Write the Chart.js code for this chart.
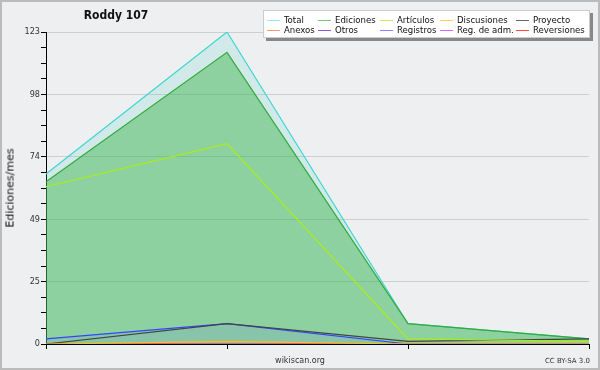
<!DOCTYPE html>
<html>
<head>
<meta charset="utf-8">
<script src="https://cdn.jsdelivr.net/npm/chart.js@4"></script>
<style>
  body { margin: 0; background: #eeeff1; }
  #wrap { position: relative; width: 600px; height: 370px; overflow: hidden; background: #eeeff1; }
  #chart { position: absolute; left: 0; top: 0; }
  #frame { position: absolute; left: 0; top: 0; width: 600px; height: 370px; box-sizing: border-box; border: 2px solid #bbbbbb; pointer-events: none; }
  .txt { position: absolute; white-space: nowrap; line-height: 1; }
  #titulo { left: 116px; top: 8px; transform: translateX(-50%); font: bold 12px "DejaVu Sans Condensed", "DejaVu Sans", sans-serif; color: #111; }
  #ytitle { left: 10px; top: 188px; transform: translate(-50%, -50%) rotate(-90deg); font: normal 11px "DejaVu Sans", sans-serif; color: #111; }
  #pie1 { left: 300px; top: 356px; transform: translateX(-50%); font: 8px "DejaVu Sans", sans-serif; color: #333; }
  #pie2 { right: 10px; top: 357px; font: 7px "DejaVu Sans", sans-serif; color: #333; }
  #leyenda { position: absolute; left: 263px; top: 10px; width: 327px; height: 28px; box-sizing: border-box;
    background: #fff; border: 1px solid #cccccc; box-shadow: 3px 3px 0 #888;
    display: grid; grid-template-columns: 51px 62px 60px 76px auto; grid-auto-rows: 10px; column-gap: 0;
    padding: 4px 0 0 3px;
    font: 9.5px "DejaVu Sans Condensed", "DejaVu Sans", sans-serif; color: #111; }
  .item { display: flex; align-items: center; line-height: 10px; white-space: nowrap; }
  .item i { display: inline-block; width: 13px; height: 1px; margin-right: 4px; flex: none; }
</style>
</head>
<body>
<div id="wrap">
  <canvas id="chart" width="600" height="370"></canvas>
  <div class="txt" id="titulo">Roddy 107</div>
  <div class="txt" id="ytitle">Ediciones/mes</div>
  <div class="txt" id="pie1">wikiscan.org</div>
  <div class="txt" id="pie2">CC BY-SA 3.0</div>
  <div id="leyenda"></div>
  <div id="frame"></div>
</div>
<script>
// meses (sin etiquetas visibles en el eje)
const meses = ['1', '2', '3', '4'];

// valores
const total       = [67, 123, 8, 2];
const ediciones   = [64, 115, 8, 2];
const articulos   = [62, 79, 2, 1];
const discusiones = [0, 1, 0, 0];
const proyecto    = [0, 8, 1, 2];
const anexos      = [0, 0, 0, 0];
const otros       = [0, 0, 0, 0];
const registros   = [2, 8, 0, 0];
const regAdm      = [0, 0, 0, 0];
const reversiones = [0, 0, 0, 0];

const yMax = 123;
const yDivisiones = 20;   // marcas menores, etiqueta cada 4

// orden de la leyenda (por filas)
const nombres = ['Total', 'Ediciones', 'Artículos', 'Discusiones', 'Proyecto',
                 'Anexos', 'Otros', 'Registros', 'Reg. de adm.', 'Reversiones'];
const colores = ['#3fd6d0', '#33aa3c', '#aaee11', '#f2c21a', '#444444',
                 '#ff7f3f', '#8a33dd', '#3344ff', '#dd44ff', '#ff3333'];
const colLeyenda = ['#99e6e6', '#77c477', '#c8ee55', '#ffd055', '#666666',
                    '#ff9966', '#9955dd', '#8888ff', '#dd66ff', '#ff4444'];
const series = [total, ediciones, articulos, discusiones, proyecto,
                anexos, otros, registros, regAdm, reversiones];

// armamos la leyenda
const leyenda = document.getElementById('leyenda');
nombres.forEach((n, i) => {
    const d = document.createElement('div');
    d.className = 'item';
    d.innerHTML = '<i style="background:' + colLeyenda[i] + '"></i>' + n;
    leyenda.appendChild(d);
});

const rellenos = {
    0: 'rgba(64, 214, 190, 0.16)',
    1: 'rgba(60, 178, 75, 0.46)',
    7: 'rgba(90, 90, 255, 0.1)'
};
const ordenes = { 0: 3, 1: 2 };

const datasets = series.map((s, i) => ({
    label: nombres[i],
    data: s,
    borderColor: colores[i],
    borderWidth: 1.2,
    pointRadius: 0,
    tension: 0,
    fill: rellenos[i] ? 'origin' : false,
    backgroundColor: rellenos[i] || 'transparent',
    order: ordenes[i] || 1
}));

new Chart(document.getElementById('chart'), {
    type: 'line',
    data: { labels: meses, datasets },
    options: {
        responsive: false,
        animation: false,
        events: [],
        layout: { padding: { left: 0, top: 32, right: 11, bottom: 0 } },
        plugins: { legend: { display: false }, tooltip: { enabled: false }, title: { display: false } },
        scales: {
            x: {
                offset: false,
                z: 1,
                border: { color: '#000', width: 1 },
                grid: { drawOnChartArea: false, tickLength: 5, tickColor: '#000' },
                ticks: { display: false },
                afterFit: (scale) => { scale.height = 26; }
            },
            y: {
                min: 0,
                max: yMax,
                z: 1,
                border: { color: '#000', width: 1 },
                afterBuildTicks: (scale) => {
                    scale.ticks = [];
                    for (let k = 0; k <= yDivisiones; k++) scale.ticks.push({ value: yMax * k / yDivisiones });
                },
                grid: {
                    tickLength: 5,
                    tickColor: '#000',
                    color: (ctx) => (ctx.index % 4 === 0 && ctx.index > 0) ? '#cfcfcf' : 'rgba(0,0,0,0)'
                },
                ticks: {
                    autoSkip: false,
                    padding: 1,
                    color: '#333',
                    font: { family: '"DejaVu Sans Condensed", "DejaVu Sans", sans-serif', size: 9 },
                    callback: (v, i) => (i % 4 === 0) ? Math.round(v) : ''
                },
                afterFit: (scale) => { scale.width = 46; }
            }
        }
    }
});
</script>
</body>
</html>
